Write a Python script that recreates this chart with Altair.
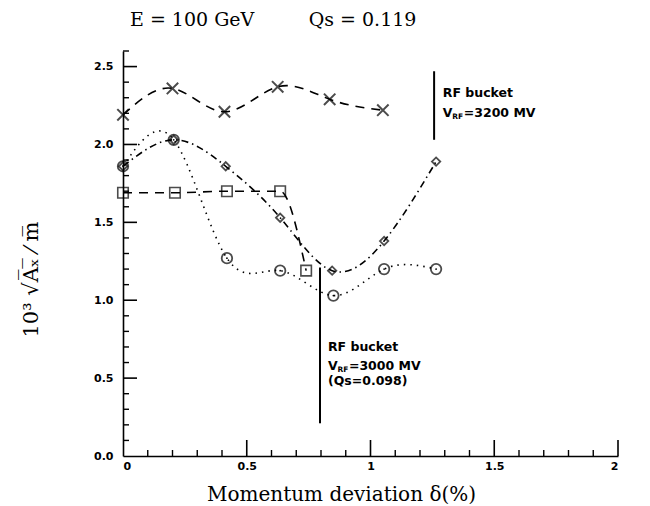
import altair as alt
import pandas as pd

# ---- data ----
cross_x = [0.0, 0.20, 0.41, 0.625, 0.835, 1.05]
cross_y = [2.19, 2.36, 2.21, 2.37, 2.29, 2.22]

diam_x = [0.0, 0.205, 0.415, 0.635, 0.845, 1.055, 1.265]
diam_y = [1.86, 2.03, 1.86, 1.53, 1.19, 1.38, 1.89]

circ_x = [0.0, 0.205, 0.42, 0.635, 0.85, 1.055, 1.265]
circ_y = [1.86, 2.03, 1.27, 1.19, 1.03, 1.20, 1.20]

sq_x = [0.0, 0.21, 0.42, 0.635, 0.74]
sq_y = [1.69, 1.69, 1.70, 1.70, 1.19]

# RF bucket markers
bucket_x = [0.796, 1.257]
bucket_top = [1.21, 2.47]
bucket_bottom = [0.21, 2.03]

# axis ticks
x_labels = [0, 0.5, 1, 1.5, 2]
y_labels = [0.0, 0.5, 1.0, 1.5, 2.0, 2.5]
x_major = [0.5, 1.0, 1.5, 2.0]
x_minor = [0.1, 0.2, 0.3, 0.4, 0.6, 0.7, 0.8, 0.9, 1.1, 1.2, 1.3, 1.4, 1.6, 1.7, 1.8, 1.9]
y_major = [0.5, 1.0, 1.5, 2.0, 2.5]
y_minor = [0.1, 0.2, 0.3, 0.4, 0.6, 0.7, 0.8, 0.9, 1.1, 1.2, 1.3, 1.4,
           1.6, 1.7, 1.8, 1.9, 2.1, 2.2, 2.3, 2.4, 2.6]

# annotation texts
ann_upper = ["RF bucket", "V", "RF", "=3200 MV"]
ann_lower = ["RF bucket", "V", "RF", "=3000 MV", "(Qs=0.098)"]
ann_upper_x = 1.292
ann_upper_y = [2.33, 2.20]
ann_lower_x = 0.828
ann_lower_y = [0.70, 0.578, 0.48]

SERIF = "DejaVu Serif"
BOLD = "DejaVu Sans"

xs = alt.Scale(domain=[0, 2], nice=False, zero=False)
ys = alt.Scale(domain=[0, 2.6], nice=False, zero=False)

xaxis = alt.Axis(values=x_labels, format="~g", ticks=False, grid=False,
                 title="Momentum deviation δ(%)", labelPadding=4,
                 titleX=218, titleY=38, titleAlign="center", titleBaseline="middle")
yaxis = alt.Axis(values=y_labels, format=".1f", ticks=False, grid=False,
                 title="10³ √A̅ₓ̅ ⁄ m̅", labelPadding=10,
                 titleX=-92, titleY=228, titleAlign="center", titleBaseline="middle")

X = alt.X("x:Q", scale=xs, axis=xaxis)
Y = alt.Y("y:Q", scale=ys, axis=yaxis)


def df(xv, yv):
    return pd.DataFrame({"x": xv, "y": yv})


layers = []

# smoothed curves
layers.append(alt.Chart(df(cross_x, cross_y)).mark_line(
    color="black", strokeWidth=1.6, strokeDash=[9, 7], interpolate="natural"
).encode(x=X, y=Y))
layers.append(alt.Chart(df(diam_x, diam_y)).mark_line(
    color="black", strokeWidth=1.6, strokeDash=[7, 4, 1.5, 4], interpolate="natural"
).encode(x=X, y=Y))
layers.append(alt.Chart(df(circ_x, circ_y)).mark_line(
    color="black", strokeWidth=1.6, strokeDash=[1.5, 5], interpolate="natural"
).encode(x=X, y=Y))
layers.append(alt.Chart(df(sq_x, sq_y)).mark_line(
    color="black", strokeWidth=1.6, strokeDash=[9, 7], interpolate="monotone"
).encode(x=X, y=Y))

# markers
layers.append(alt.Chart(df(cross_x, cross_y)).mark_point(
    shape="M-1,-1L1,1M1,-1L-1,1", size=130, filled=False, color="black", strokeWidth=2
).encode(x=X, y=Y))
layers.append(alt.Chart(df(diam_x, diam_y)).mark_point(
    shape="diamond", size=70, filled=False, color="black", strokeWidth=1.8
).encode(x=X, y=Y))
layers.append(alt.Chart(df(circ_x, circ_y)).mark_point(
    shape="circle", size=110, filled=False, color="black", strokeWidth=1.8
).encode(x=X, y=Y))
layers.append(alt.Chart(df(circ_x, circ_y)).mark_point(
    shape="circle", size=3, filled=True, color="black", opacity=1
).encode(x=X, y=Y))
layers.append(alt.Chart(df(sq_x, sq_y)).mark_point(
    shape="square", size=110, filled=False, color="black", strokeWidth=1.6
).encode(x=X, y=Y))

# RF bucket lines
bdf = pd.DataFrame({"x": bucket_x, "y": bucket_top, "y2": bucket_bottom})
layers.append(alt.Chart(bdf).mark_rule(color="black", strokeWidth=2).encode(
    x=X, y=Y, y2="y2:Q"))

# inward tick marks
layers.append(alt.Chart(pd.DataFrame({"x": x_major})).mark_rule(
    color="black", strokeWidth=1.6).encode(x=X, y=alt.value(405), y2=alt.value(389)))
layers.append(alt.Chart(pd.DataFrame({"x": x_minor})).mark_rule(
    color="black", strokeWidth=1.4).encode(x=X, y=alt.value(405), y2=alt.value(399)))
layers.append(alt.Chart(pd.DataFrame({"y": y_major})).mark_rule(
    color="black", strokeWidth=1.6).encode(y=Y, x=alt.value(0), x2=alt.value(14)))
layers.append(alt.Chart(pd.DataFrame({"y": y_minor})).mark_rule(
    color="black", strokeWidth=1.4).encode(y=Y, x=alt.value(0), x2=alt.value(6)))

# annotations
def txt(t, xv, yv, dx=0, dy=0, size=12.5):
    return alt.Chart(pd.DataFrame({"x": [xv], "y": [yv], "t": [t]})).mark_text(
        align="left", baseline="middle", font=BOLD, fontWeight="bold",
        fontSize=size, dx=dx, dy=dy, color="black"
    ).encode(x=X, y=Y, text="t:N")

layers.append(txt(ann_upper[0], ann_upper_x, ann_upper_y[0]))
layers.append(txt(ann_upper[1], ann_upper_x, ann_upper_y[1]))
layers.append(txt(ann_upper[2], ann_upper_x, ann_upper_y[1], dx=9.5, dy=4, size=7.5))
layers.append(txt(ann_upper[3], ann_upper_x, ann_upper_y[1], dx=21))
layers.append(txt(ann_lower[0], ann_lower_x, ann_lower_y[0]))
layers.append(txt(ann_lower[1], ann_lower_x, ann_lower_y[1]))
layers.append(txt(ann_lower[2], ann_lower_x, ann_lower_y[1], dx=9.5, dy=4, size=7.5))
layers.append(txt(ann_lower[3], ann_lower_x, ann_lower_y[1], dx=21))
layers.append(txt(ann_lower[4], ann_lower_x, ann_lower_y[2]))

chart = alt.layer(*layers).properties(
    width=495,
    height=405,
    padding={"left": 115, "top": 43, "right": 20, "bottom": 48},
    autosize=alt.AutoSizeParams(type="none"),
    title=alt.TitleParams(
        text="E = 100 GeV\u00a0\u00a0\u00a0\u00a0\u00a0\u00a0\u00a0\u00a0\u00a0Qs = 0.119",
        anchor="start", dx=7, offset=20, font=SERIF, fontSize=19,
        fontWeight="normal", color="black", frame="group"),
).configure_view(stroke=None).configure_axis(
    domainColor="black", domainWidth=1.6,
    labelFont=BOLD, labelFontWeight="bold", labelFontSize=11, labelColor="black",
    titleFont=SERIF, titleFontWeight="normal", titleFontSize=20, titleColor="black",
).configure_axisY(titleFontSize=21)

chart.save("out.html", embed_options={"renderer": "svg", "actions": False})
